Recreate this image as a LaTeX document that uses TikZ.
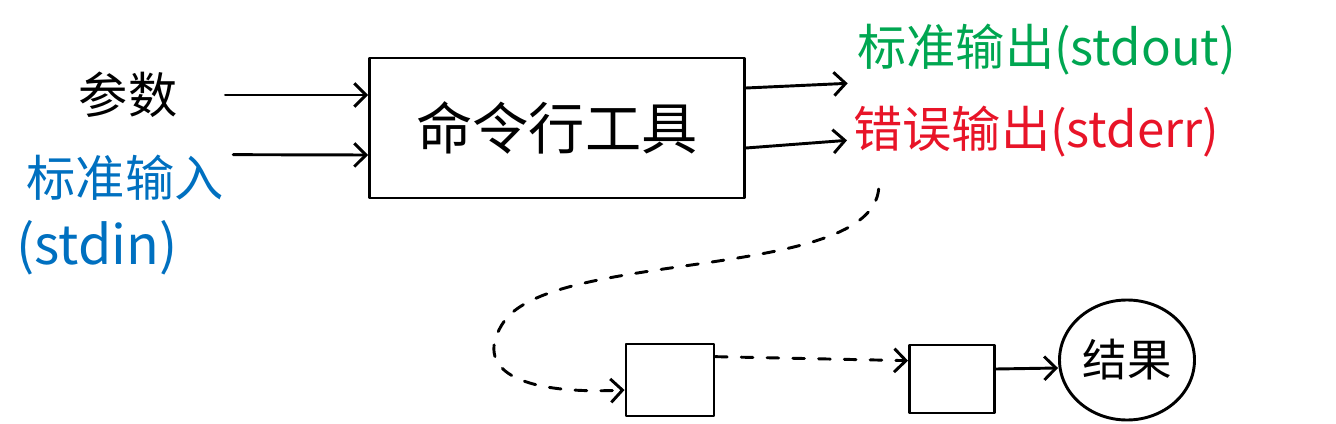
\documentclass[tikz,border=0pt]{standalone}
\usepackage{fontspec}
\setmainfont{Noto Sans CJK SC}
\usetikzlibrary{arrows.meta,shapes.geometric}
\definecolor{inkblue}{RGB}{0,112,192}
\definecolor{inkgreen}{RGB}{0,166,81}
\definecolor{inkred}{RGB}{232,20,40}
\begin{document}
\begin{tikzpicture}[x=0.03cm,y=-0.03cm, line width=2.5pt, line cap=round, line join=round,
  arr/.style={-{Straight Barb[length=10pt,width=20pt,line width=2.5pt]}},
  lbl/.style={inner sep=0pt, font=\fontsize{42}{46}\selectfont},
  box/.style={draw, inner sep=0pt},
  dsh/.style={dash pattern=on 10pt off 12pt}]
\useasboundingbox (0,0) rectangle (1336,424);
% left labels
\node[lbl] (param) at (128,95) {参数};
\node[lbl, text=inkblue] (stdin1) at (125,178) {标准输入};
\node[lbl, text=inkblue, font=\fontsize{46}{50}\selectfont] (stdin2) at (97,248) {(stdin)};
% main box
\node[box, minimum width=11.25cm, minimum height=4.2cm, font=\fontsize{48}{52}\selectfont] (tool) at (557,128) {命令行工具};
% outputs
\node[lbl, text=inkgreen, anchor=west] (out) at (856,50) {标准输出(stdout)};
\node[lbl, text=inkred, anchor=west] (err) at (852,132) {错误输出(stderr)};
% small boxes and result
\node[box, minimum width=2.64cm, minimum height=2.16cm] (b1) at (670,380) {};
\node[box, minimum width=2.55cm, minimum height=2.04cm] (b2) at (952,379) {};
\node[draw, ellipse, minimum width=4.05cm, minimum height=3.6cm, inner sep=0pt, font=\fontsize{38}{42}\selectfont] (res) at (1127,360) {结果};
% arrows in
\draw[arr] ([xshift=1.4cm]param.east) -- (tool.west |- param.east);
\draw[arr] ([xshift=0.25cm,yshift=0.7cm]stdin1.east) -- ([yshift=-0.81cm]tool.west);
% arrows out
\draw[arr] ([yshift=1.2cm]tool.east) -- ([xshift=-0.25cm,yshift=-1.0cm]out.west);
\draw[arr] ([yshift=-0.6cm]tool.east) -- ([xshift=-0.15cm,yshift=-0.25cm]err.west);
% dashed return curve
\draw[dsh, arr] ([xshift=0.8cm,yshift=-0.9cm]err.south west) .. controls (870,280) and (560,250) .. (505,320)
  .. controls (470,370) and (520,395) .. ([yshift=-0.3cm]b1.west);
% box chain
\draw[dsh, arr] ([yshift=0.7cm]b1.east) -- ([yshift=0.55cm]b2.west);
\draw[arr] ([yshift=0.3cm]b2.east) -- (res.west |- 0,368);
\end{tikzpicture}
\end{document}
